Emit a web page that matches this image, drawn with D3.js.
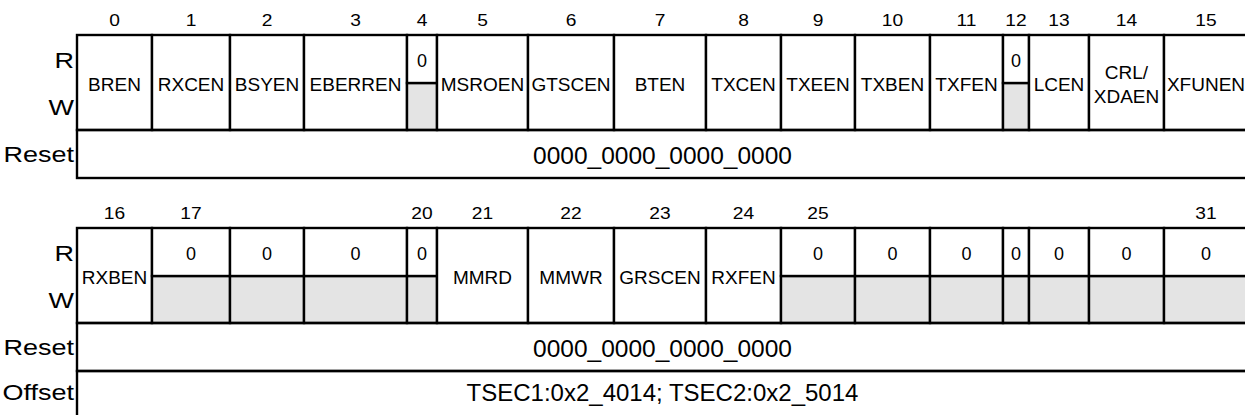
<!DOCTYPE html>
<html>
<head>
<meta charset="utf-8">
<script src="https://cdn.jsdelivr.net/npm/d3@7"></script>
<style>
  html, body { margin: 0; padding: 0; background: #fff; }
  svg { display: block; }
  text { font-family: "Liberation Sans", Arial, sans-serif; fill: #000; }
</style>
</head>
<body>
<svg id="chart" width="1245" height="415"></svg>
<script>
// ---------- data ----------
const topBits = ["0","1","2","3","4","5","6","7","8","9","10","11","12","13","14","15"];
const bottomBits = ["16","17","","","20","21","22","23","24","25","","","","","","31"];
// null = reserved (read 0, write greyed)
const topFields = ["BREN","RXCEN","BSYEN","EBERREN",null,"MSROEN","GTSCEN","BTEN","TXCEN","TXEEN","TXBEN","TXFEN",null,"LCEN","CRL/|XDAEN","XFUNEN"];
const bottomFields = ["RXBEN",null,null,null,null,"MMRD","MMWR","GRSCEN","RXFEN",null,null,null,null,null,null,null];
const reservedRead = "0";
const rowLabels = ["R","W","Reset"];
const resetValues = ["0000_0000_0000_0000","0000_0000_0000_0000"];
const offsetLabel = "Offset";
const offsetValue = "TSEC1:0x2_4014; TSEC2:0x2_5014";

// ---------- layout ----------
const colUnits = [75,78,74,103,30,91,86,92,75,74,75,73,26,60,75,84];
const edges = [0];
colUnits.forEach(w => edges.push(edges[edges.length-1] + w));
const x = d3.scaleLinear().domain([0, edges[edges.length-1]]).range([77, 1248]);

const svg = d3.select("#chart");
const lw = 2.4;
const grey = "#e4e4e4";
const stretch = 1.2;

function stretchedText(g, tx, ty, txt, size, anchor) {
  g.append("text")
    .attr("transform", `translate(${tx},${ty}) scale(${stretch},1)`)
    .attr("dy","0.35em")
    .attr("text-anchor", anchor)
    .style("font-size", size + "px")
    .text(txt);
}

function drawTable(top, bits, fields, resetVal, withOffset) {
  const g = svg.append("g");
  const rwTop = top, rwMid = top + 48, rwBot = top + 95, resetBot = rwBot + 48;

  // bit numbers
  bits.forEach((d,i) => {
    if (d) stretchedText(g, (x(edges[i])+x(edges[i+1]))/2, top - 15, d, 16, "middle");
  });

  // row labels
  const lab = [[rowLabels[0], rwTop+25],[rowLabels[1], rwTop+72],[rowLabels[2], rwBot+24]];
  if (withOffset) lab.push([offsetLabel, resetBot+21]);
  lab.forEach(d => stretchedText(g, 74, d[1], d[0], 22.5, "end"));

  // field cells
  fields.forEach((f,i) => {
    const x0 = x(edges[i]), x1 = x(edges[i+1]), cx = (x0+x1)/2;
    if (f === null) {
      g.append("rect").attr("x",x0).attr("y",rwMid).attr("width",x1-x0).attr("height",rwBot-rwMid)
        .attr("fill",grey).attr("stroke","#000").attr("stroke-width",lw);
      g.append("rect").attr("x",x0).attr("y",rwTop).attr("width",x1-x0).attr("height",rwMid-rwTop)
        .attr("fill","#fff").attr("stroke","#000").attr("stroke-width",lw);
      g.append("text").attr("x",cx).attr("y",(rwTop+rwMid)/2+2).attr("dy","0.35em")
        .attr("text-anchor","middle").style("font-size","18px").text(reservedRead);
    } else {
      g.append("rect").attr("x",x0).attr("y",rwTop).attr("width",x1-x0).attr("height",rwBot-rwTop)
        .attr("fill","#fff").attr("stroke","#000").attr("stroke-width",lw);
      const lines = f.split("|");
      const t = g.append("text").attr("text-anchor","middle").style("font-size","19px");
      lines.forEach((ln,k) => {
        t.append("tspan").attr("x",cx)
          .attr("y",(rwTop+rwBot)/2 + 2 + (k - (lines.length-1)/2)*24)
          .attr("dy","0.35em").text(ln);
      });
    }
  });

  // reset row
  const xr = x(edges[edges.length-1]);
  g.append("rect").attr("x",x(0)).attr("y",rwBot).attr("width",xr-x(0)).attr("height",resetBot-rwBot)
    .attr("fill","none").attr("stroke","#000").attr("stroke-width",lw);
  g.append("text").attr("x",(x(0)+xr)/2).attr("y",rwBot+25).attr("dy","0.35em")
    .attr("text-anchor","middle").style("font-size","24.5px").text(resetVal);

  if (withOffset) {
    g.append("rect").attr("x",x(0)).attr("y",resetBot).attr("width",xr-x(0)).attr("height",60)
      .attr("fill","none").attr("stroke","#000").attr("stroke-width",lw);
    g.append("text").attr("x",(x(0)+xr)/2).attr("y",resetBot+22).attr("dy","0.35em")
      .attr("text-anchor","middle").style("font-size","24px").text(offsetValue);
  }
}

drawTable(35, topBits, topFields, resetValues[0], false);
drawTable(228, bottomBits, bottomFields, resetValues[1], true);
</script>
</body>
</html>
